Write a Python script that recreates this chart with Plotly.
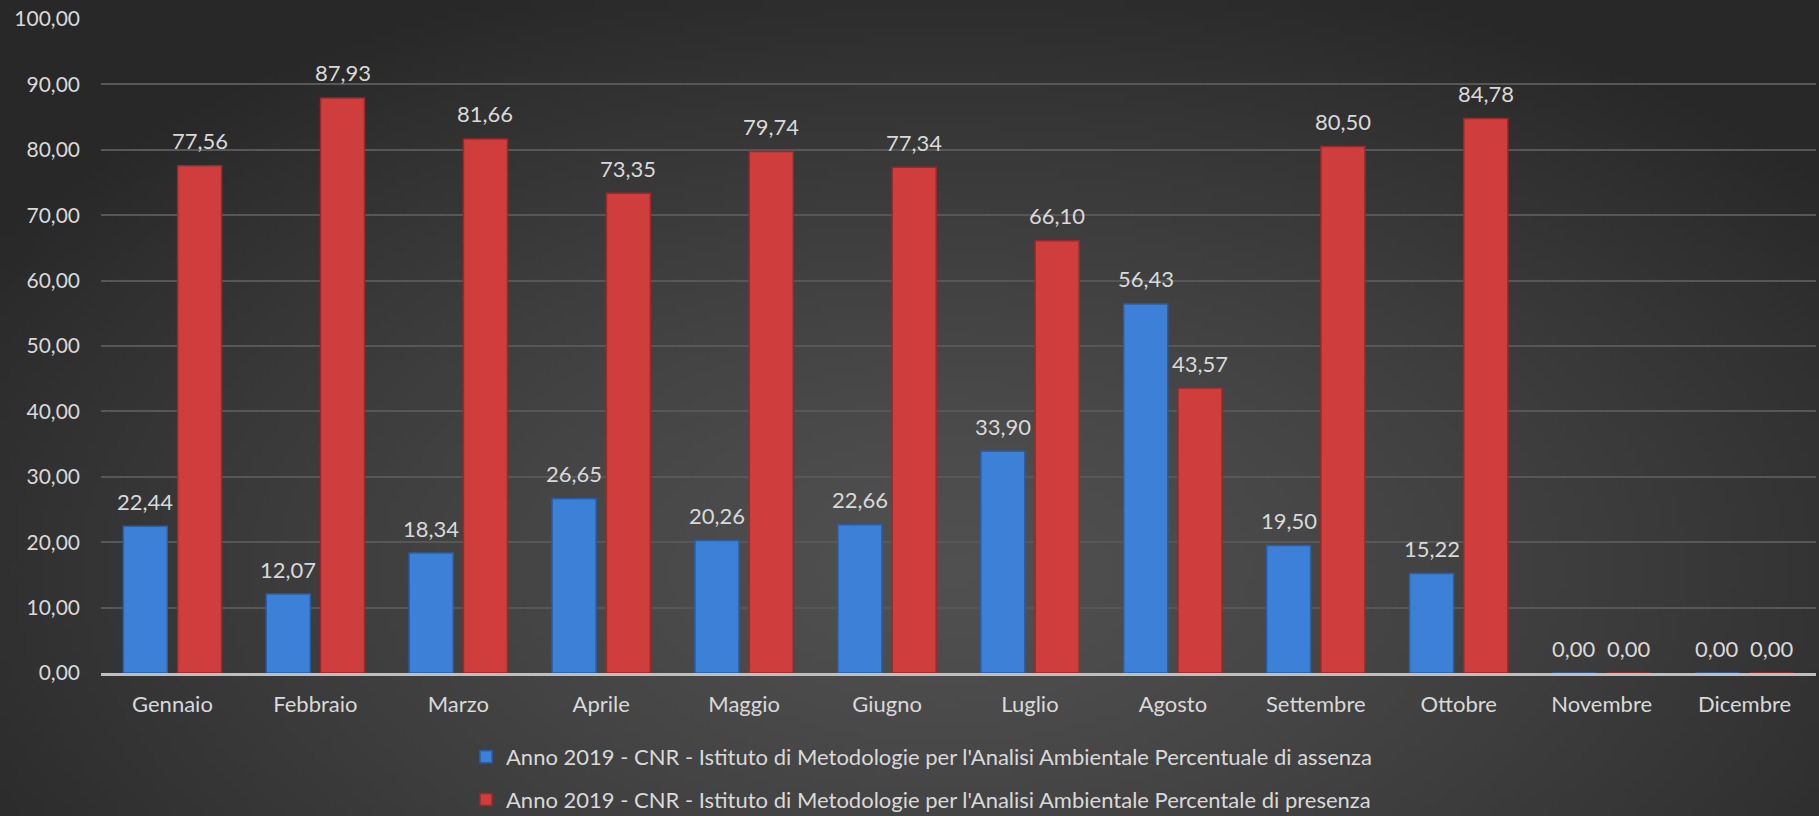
import base64, struct, zlib
import plotly.graph_objects as go

mesi = ["Gennaio", "Febbraio", "Marzo", "Aprile", "Maggio", "Giugno",
        "Luglio", "Agosto", "Settembre", "Ottobre", "Novembre", "Dicembre"]
assenza = [22.44, 12.07, 18.34, 26.65, 20.26, 22.66, 33.90, 56.43, 19.50, 15.22, 0.00, 0.00]
presenza = [77.56, 87.93, 81.66, 73.35, 79.74, 77.34, 66.10, 43.57, 80.50, 84.78, 0.00, 0.00]
nome_assenza = "Anno 2019 - CNR - Istituto di Metodologie per l'Analisi Ambientale Percentuale di assenza"
nome_presenza = "Anno 2019 - CNR - Istituto di Metodologie per l'Analisi Ambientale Percentale di presenza"
y_ticks = [0, 10, 20, 30, 40, 50, 60, 70, 80, 90, 100]

W, H = 1819, 816
ML, MR, MT, MB = 101, 3, 19, 143
BARGAP = 0.24
FONT = "Lato"
TXT = "#d9d9d9"


def gradient_png(w=240, h=108):
    rows = []
    for j in range(h):
        row = bytearray([0])
        y = j / (h - 1)
        for i in range(w):
            x = i / (w - 1)
            dx = (x - 0.52) / 0.62
            dy = (y - 0.70) / 0.78
            r = min(1.0, (dx * dx + dy * dy) ** 0.5)
            v = int(round(80 - (80 - 40) * r ** 1.3))
            row.append(v)
        rows.append(bytes(row))
    raw = b"".join(rows)

    def chunk(t, d):
        c = struct.pack(">I", len(d)) + t + d
        return c + struct.pack(">I", zlib.crc32(t + d) & 0xffffffff)

    png = b"\x89PNG\r\n\x1a\n"
    png += chunk(b"IHDR", struct.pack(">IIBBBBB", w, h, 8, 0, 0, 0, 0))
    png += chunk(b"IDAT", zlib.compress(raw, 9))
    png += chunk(b"IEND", b"")
    return "data:image/png;base64," + base64.b64encode(png).decode()


fig = go.Figure()
fig.add_trace(go.Bar(
    x=mesi, y=assenza, name=nome_assenza,
    marker=dict(color="#3c80d7", line=dict(color="#2a5ea6", width=1.5)),
    legendgroup="a",
))
fig.add_trace(go.Bar(
    x=mesi, y=presenza, name=nome_presenza,
    marker=dict(color="#cf3d3d", line=dict(color="#992a2a", width=1.5)),
    legendgroup="p",
))

pw = W - ML - MR
ph = H - MT - MB
slot = pw / len(mesi) * (1 - BARGAP) / 4

annotations = []
for serie, sh in ((assenza, -slot), (presenza, slot)):
    for m, v in zip(mesi, serie):
        annotations.append(dict(
            x=m, y=v, xref="x", yref="y", text=f"{v:.2f}".replace(".", ","),
            showarrow=False, xshift=sh, yshift=25, yanchor="middle",
            font=dict(family=FONT, size=22, color=TXT),
        ))

fig.update_layout(
    width=W, height=H,
    margin=dict(l=ML, r=MR, t=MT, b=MB, pad=0, autoexpand=False),
    paper_bgcolor="#333333",
    plot_bgcolor="rgba(0,0,0,0)",
    barmode="group", bargap=BARGAP, bargroupgap=0.19,
    separators=",.",
    font=dict(family=FONT, size=22, color=TXT),
    showlegend=True,
    legend=dict(
        orientation="v", x=466 / W, xanchor="left", xref="container",
        y=1 - 736 / H, yanchor="top", yref="container",
        font=dict(family=FONT, size=22, color=TXT),
        bgcolor="rgba(0,0,0,0)", tracegroupgap=11, itemwidth=30,
    ),
    annotations=annotations,
    images=[dict(
        source=gradient_png(), xref="paper", yref="paper",
        x=-ML / pw, y=1 + MT / ph, sizex=W / pw, sizey=H / ph,
        xanchor="left", yanchor="top", sizing="stretch", layer="below",
    )],
)
fig.update_xaxes(
    showgrid=False, showline=True, linecolor="#bfbfbf", linewidth=2.5,
    ticks="", ticklabelstandoff=10,
    tickfont=dict(family=FONT, size=22, color=TXT),
)
fig.update_yaxes(
    range=[0, 100], tickvals=y_ticks, tickformat=".2f",
    showgrid=True, gridcolor="#575757", gridwidth=1.5,
    zeroline=False, showline=False, ticks="", ticklabelstandoff=20,
    tickfont=dict(family=FONT, size=21, color=TXT),
)

fig.write_html(
    "out.html",
    config={"displayModeBar": False},
    post_script="document.body.style.margin='0';document.body.style.overflow='hidden';",
)
